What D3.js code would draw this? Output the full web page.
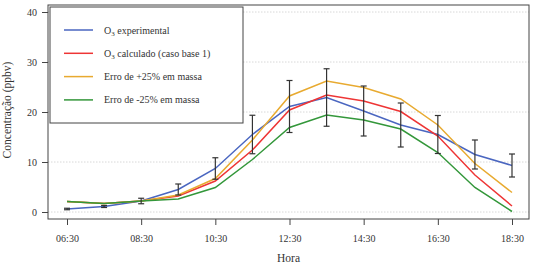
<!DOCTYPE html>
<html>
<head>
<meta charset="utf-8">
<script src="https://cdn.jsdelivr.net/npm/d3@7"></script>
<style>
  body { margin: 0; background: #fff; }
  text { font-family: "Liberation Serif", "DejaVu Serif", serif; fill: #333; }
</style>
</head>
<body>
<div id="chart"></div>
<script>
const hours = ['06:30', '07:30', '08:30', '09:30', '10:30', '11:30', '12:30',
  '13:30', '14:30', '15:30', '16:30', '17:30', '18:30']
const tickLabels = ['06:30', '08:30', '10:30', '12:30', '14:30', '16:30', '18:30']
const yTicks = [0, 10, 20, 30, 40]

const experimental = [0.6, 1.1, 2.2, 4.5, 8.7, 15.5, 21.1, 22.9, 20.2, 17.4, 15.5, 11.5, 9.3]
const errHalf = [0.15, 0.2, 0.55, 1.1, 2.15, 3.85, 5.2, 5.75, 5.0, 4.4, 3.8, 2.9, 2.3]
const calculado = [2.1, 1.7, 2.2, 3.2, 6.2, 12.4, 20.4, 23.4, 22.2, 20.1, 15.2, 7.4, 1.2]
const mais25 = [2.1, 1.7, 2.2, 3.4, 6.7, 14.4, 23.2, 26.2, 24.9, 22.6, 17.4, 9.7, 3.9]
const menos25 = [2.1, 1.7, 2.2, 2.6, 4.9, 10.5, 16.9, 19.4, 18.4, 16.6, 11.9, 4.9, 0.1]

const series = [
  {name: 'experimental', label: ' experimental', o3: true, values: experimental, color: '#4a66c0'},
  {name: 'calculado', label: ' calculado (caso base 1)', o3: true, values: calculado, color: '#ee3535'},
  {name: 'mais25', label: 'Erro de +25% em massa', o3: false, values: mais25, color: '#e8aa30'},
  {name: 'menos25', label: 'Erro de -25% em massa', o3: false, values: menos25, color: '#33973a'},
]

const serif = '"Liberation Serif", "DejaVu Serif", serif'
const margin = {top: 5, right: 7, bottom: 52, left: 48}
const W = 536, H = 271
const width = W - margin.left - margin.right
const height = H - margin.top - margin.bottom

const svg = d3.select('#chart').append('svg')
  .attr('width', W).attr('height', H)
  .append('g')
  .attr('transform', 'translate(' + margin.left + ',' + margin.top + ')')

const xScale = d3.scalePoint().domain(hours).range([19, width - 17])
const yScale = d3.scaleLinear().domain([0, 40]).range([207, 7])

// grid
svg.append('g').selectAll('line').data(yTicks).join('line')
  .attr('x1', 0).attr('x2', width)
  .attr('y1', (d) => yScale(d)).attr('y2', (d) => yScale(d))
  .attr('stroke', '#d8d8d8').attr('stroke-width', 1)
  .attr('stroke-dasharray', '1.5,1.5')

// axes
const xAxis = svg.append('g')
  .attr('transform', 'translate(0,' + height + ')')
  .call(d3.axisBottom(xScale).tickValues(tickLabels).tickSize(6).tickPadding(10))
const yAxis = svg.append('g')
  .call(d3.axisLeft(yScale).tickValues(yTicks).tickSize(6).tickPadding(5))
;[xAxis, yAxis].forEach((a) => {
  a.attr('font-family', serif)
  a.select('.domain').remove()
  a.selectAll('line').attr('stroke', '#444')
  a.selectAll('text').style('font-size', '10px').style('font-family', serif).attr('fill', '#333')
})

// frame
svg.append('rect')
  .attr('width', width).attr('height', height)
  .attr('fill', 'none').attr('stroke', '#444').attr('stroke-width', 1)

// lines
const line = d3.line()
  .x((d, i) => xScale(hours[i]))
  .y((d) => yScale(d))

series.forEach((s) => {
  svg.append('path')
    .datum(s.values)
    .attr('fill', 'none')
    .attr('stroke', s.color)
    .attr('stroke-width', 1.5)
    .attr('d', line)
})

// error bars on experimental
const eb = svg.append('g').attr('stroke', '#333').attr('stroke-width', 1.2)
hours.forEach((h, i) => {
  const x = xScale(h)
  const y1 = yScale(experimental[i] + errHalf[i])
  const y2 = yScale(experimental[i] - errHalf[i])
  eb.append('line').attr('x1', x).attr('x2', x).attr('y1', y1).attr('y2', y2)
  eb.append('line').attr('x1', x - 3).attr('x2', x + 3).attr('y1', y1).attr('y2', y1)
  eb.append('line').attr('x1', x - 3).attr('x2', x + 3).attr('y1', y2).attr('y2', y2)
})

// legend
const legend = svg.append('g').attr('transform', 'translate(2,2)')
legend.append('rect')
  .attr('width', 193).attr('height', 116)
  .attr('fill', '#fff').attr('stroke', '#444').attr('stroke-width', 1)
series.forEach((s, i) => {
  const y = 23 + i * 23.3
  legend.append('line')
    .attr('x1', 14).attr('x2', 43).attr('y1', y).attr('y2', y)
    .attr('stroke', s.color).attr('stroke-width', 1.5)
  const t = legend.append('text')
    .attr('x', 54).attr('y', y + 3.5)
    .style('font-size', '10px')
  if (s.o3) {
    t.append('tspan').text('O')
    t.append('tspan').text('3').style('font-size', '7px').attr('dy', 2)
    t.append('tspan').text(s.label).attr('dy', -2)
  } else {
    t.text(s.label)
  }
})

// axis titles
svg.append('text')
  .attr('x', width / 2).attr('y', height + 43)
  .attr('text-anchor', 'middle')
  .style('font-size', '11.5px')
  .text('Hora')
svg.append('text')
  .attr('transform', 'translate(' + (-37) + ',' + 105 + ') rotate(-90)')
  .attr('text-anchor', 'middle')
  .style('font-size', '11.5px')
  .text('Concentração (ppbv)')
</script>
</body>
</html>
